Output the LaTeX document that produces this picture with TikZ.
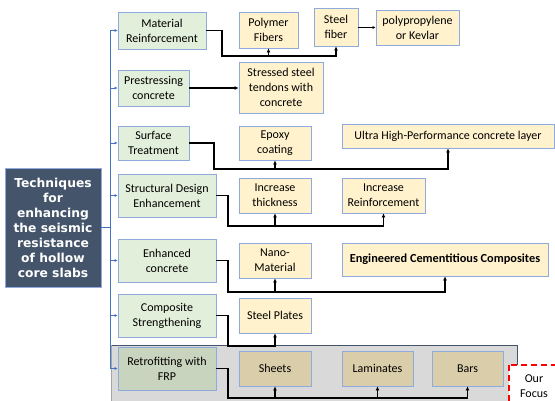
\documentclass[tikz,border=0pt]{standalone}
\usepackage{fontspec}
\setmainfont{Carlito}
\newfontfamily\headfont{DejaVu Sans}
\usetikzlibrary{arrows.meta}
\definecolor{slate}{HTML}{44546A}
\definecolor{edgeblue}{HTML}{8FAADC}
\definecolor{trunkblue}{HTML}{4472C4}
\definecolor{greenfill}{HTML}{E2EFDA}
\definecolor{retfill}{HTML}{C9D4BE}
\definecolor{yelfill}{HTML}{FFF2CC}
\definecolor{tanfill}{HTML}{DACDA9}
\definecolor{focusred}{HTML}{FF0000}
\begin{document}
\begin{tikzpicture}[x=1pt,y=-1pt,>=latex,
    box/.style={draw=edgeblue,line width=0.8pt,align=center,inner sep=1pt,
      font=\fontsize{12}{15}\selectfont},
    tech/.style={box,fill=greenfill},
    idea/.style={box,fill=yelfill},
    frp/.style={box,fill=tanfill},
    feed/.style={trunkblue,line width=1pt,->,>={Latex[length=3pt,width=3pt]}},
    link/.style={black,line width=1.5pt,->,>={Latex[length=4pt,width=4pt]}}]
  \useasboundingbox (0,0) rectangle (555,400);
  % focus area
  \fill[black!15] (111,345) rectangle (517,402);
  \draw[slate,line width=0.8pt] (111,345) -- (517,345) -- (517,402);
  \draw[black!35,line width=0.6pt] (111,345) -- (111,402);
  % main node
  \node[draw=edgeblue,fill=slate,text=white,line width=0.8pt,align=center,
    minimum width=96pt,minimum height=119pt,inner sep=0pt,
    font=\headfont\bfseries\fontsize{12.3}{15}\selectfont] (main) at (53,227.5)
    {Techniques\\for\\enhancing\\the seismic\\resistance\\of hollow\\core slabs};
  % techniques
  \node[tech,minimum width=88pt,minimum height=37pt] (mat) at (162,30.5) {Material\\Reinforcement};
  \node[tech,minimum width=71pt,minimum height=36pt] (pre) at (153.5,88) {Prestressing\\concrete};
  \node[tech,minimum width=71pt,minimum height=34pt] (sur) at (153.5,143) {Surface\\Treatment};
  \node[tech,minimum width=98pt,minimum height=43pt] (str) at (167,195.5) {Structural Design\\Enhancement};
  \node[tech,minimum width=98pt,minimum height=43pt] (enh) at (167,260.5) {Enhanced\\concrete};
  \node[tech,minimum width=98pt,minimum height=43pt] (com) at (167,315.5) {Composite\\Strengthening};
  \node[tech,fill=retfill,minimum width=98pt,minimum height=43pt] (ret) at (167,368.5) {Retrofitting with\\FRP};
  % options
  \node[idea,minimum width=59pt,minimum height=36pt] (pol) at (268.5,30) {Polymer\\Fibers};
  \node[idea,minimum width=44pt,minimum height=38pt] (stf) at (336,27) {Steel\\fiber};
  \node[idea,minimum width=83pt,minimum height=35pt] (kev) at (417.5,27.5) {polypropylene\\or Kevlar};
  \node[idea,minimum width=84pt,minimum height=51pt] (ten) at (281,87.5) {Stressed steel\\tendons with\\concrete};
  \node[idea,minimum width=72pt,minimum height=34pt] (epo) at (275,143) {Epoxy\\coating};
  \node[idea,minimum width=212pt,minimum height=24pt] (uhp) at (448,136) {Ultra High-Performance concrete layer};
  \node[idea,minimum width=72pt,minimum height=35pt] (thk) at (275,195.5) {Increase\\thickness};
  \node[idea,minimum width=83pt,minimum height=35pt] (irf) at (383.5,195.5) {Increase\\Reinforcement};
  \node[idea,minimum width=72pt,minimum height=35pt] (nan) at (275,260.5) {Nano-\\Material};
  \node[idea,minimum width=206pt,minimum height=33pt,font=\bfseries\fontsize{12.3}{15}\selectfont] (ecc) at (445,259.5) {Engineered Cementitious Composites};
  \node[idea,minimum width=72pt,minimum height=35pt] (stp) at (275,315.5) {Steel Plates};
  \node[frp,minimum width=72pt,minimum height=35pt] (she) at (275,368.5) {Sheets};
  \node[frp,minimum width=71pt,minimum height=35pt] (lam) at (377.5,368.5) {Laminates};
  \node[frp,minimum width=71pt,minimum height=35pt] (bar) at (467.5,368.5) {Bars};
  % our focus
  \draw[focusred,fill=white,line width=2pt,dash pattern=on 6pt off 4pt] (509,365) rectangle (562,406);
  \node[align=center,font=\fontsize{12}{15}\selectfont] (foc) at (534,386) {Our\\Focus};
  % blue trunk
  \coordinate (tr) at (110,0);
  \draw[trunkblue,line width=1pt] (tr |- mat.west) -- (tr |- ret.west);
  \draw[trunkblue,line width=1pt] (main.east) -- (tr |- main.east);
  \foreach \t in {mat,pre,sur,str,enh,com,ret}
    \draw[feed] (tr |- \t.west) -- (\t.west);
  % black links
  \coordinate (j1) at (222,56);
  \coordinate (j3) at (214,169);
  \coordinate (j4) at (228,226);
  \coordinate (j5) at (228,292);
  \coordinate (j6) at (228,346);
  \coordinate (j7) at (228,398);
  \draw[link] (mat.east) -| (j1) -| (stf.south);
  \draw[link] (pol.south |- j1) -- (pol.south);
  \draw[black,line width=0.6pt,->,>={Latex[length=3pt,width=3pt]}] (stf.east |- kev.west) -- (kev.west);
  \draw[link] (pre.east) -- (pre.east -| ten.west);
  \draw[link] (sur.east) -| (j3) -| (uhp.south);
  \draw[link] (epo.south |- j3) -- (epo.south);
  \draw[link] (str.east) -| (j4) -| (irf.south);
  \draw[link] (thk.south |- j4) -- (thk.south);
  \draw[link] (enh.east) -| (j5) -| (ecc.south);
  \draw[link] (nan.south |- j5) -- (nan.south);
  \draw[link] (com.east) -| (j6) -| (stp.south);
  \draw[link] (ret.east) -| (j7) -| (bar.south);
  \draw[link] (she.south |- j7) -- (she.south);
  \draw[link] (lam.south |- j7) -- (lam.south);
\end{tikzpicture}
\end{document}
